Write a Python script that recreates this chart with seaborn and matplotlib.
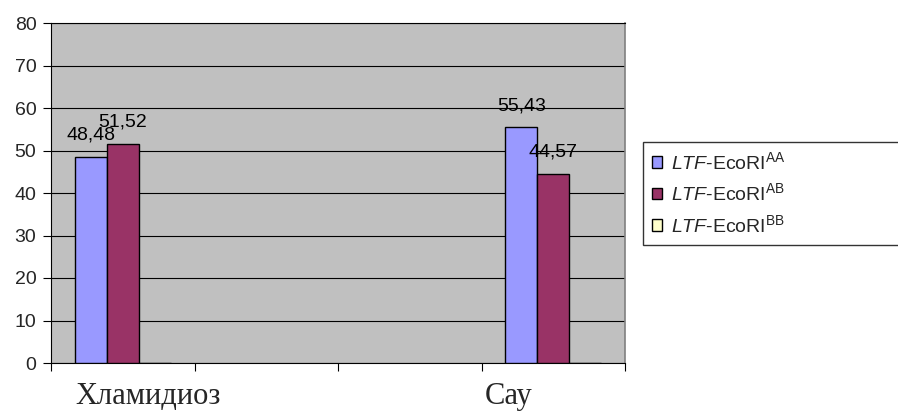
import matplotlib
matplotlib.use("Agg")
import matplotlib.pyplot as plt
import matplotlib.transforms as mtransforms
import numpy as np
import pandas as pd
import seaborn as sns

# Category slots along the x axis (the two middle slots are left empty)
categories = ["Хламидиоз", " ", "  ", "Сау"]
groups = ["Хламидиоз", "Сау"]
genotypes = ["AA", "AB", "BB"]
values_aa = [48.48, 55.43]
values_ab = [51.52, 44.57]
values_bb = [0.0, 0.0]
yticks = [0, 10, 20, 30, 40, 50, 60, 70, 80]

colors = ["#9999FF", "#993366", "#FFFFCC"]


def genotype_label(g):
    return r"$\mathit{LTF}$-EcoRI$^{\mathrm{" + g + r"}}$"


labels = [genotype_label(g) for g in genotypes]
rows = []
for g, lab, vals in zip(genotypes, labels, [values_aa, values_ab, values_bb]):
    for grp, v in zip(groups, vals):
        rows.append({"group": grp, "genotype": lab, "value": v})
df = pd.DataFrame(rows)

sns.set_theme(style="white")
plt.rcParams["font.family"] = ["Liberation Sans", "DejaVu Sans"]
plt.rcParams["mathtext.fontset"] = "custom"
plt.rcParams["mathtext.rm"] = "Liberation Sans"
plt.rcParams["mathtext.it"] = "Liberation Sans:italic"
plt.rcParams["mathtext.bf"] = "Liberation Sans:bold"

fig = plt.figure(figsize=(8.98, 4.12), dpi=100)
fig.patch.set_facecolor("white")
ax = fig.add_axes([51 / 898, 1 - 363 / 412, 574 / 898, 340 / 412])
ax.set_facecolor("#C0C0C0")

sns.barplot(
    data=df, x="group", y="value", hue="genotype",
    order=categories, hue_order=labels, palette=colors,
    width=0.667, dodge=True, edgecolor="black", linewidth=1.0,
    saturation=1, ax=ax, zorder=3,
)

# Value labels above the bars
for cont in ax.containers:
    heights = [b.get_height() for b in cont]
    texts = [("%.2f" % h).replace(".", ",") if h > 0 else "" for h in heights]
    ax.bar_label(cont, labels=texts, padding=9.5, fontsize=14, color="black")

ax.set_ylim(0, 80)
ax.set_xlim(-0.5, len(categories) - 0.5)
ax.set_yticks(yticks)
ax.set_yticklabels([str(t) for t in yticks])
ax.yaxis.grid(True, color="black", linewidth=0.8, zorder=0)
ax.set_axisbelow(True)
ax.tick_params(axis="y", which="major", direction="out", length=5.5, width=0.8,
               color="black", pad=5, labelsize=14, left=True)

# Category labels in a serif face, boundary ticks as minor ticks
ax.set_xticks(range(len(categories)))
ax.set_xticklabels(categories, fontfamily=["Liberation Serif", "DejaVu Serif"], fontsize=22)
ax.set_xticks(np.arange(-0.5, len(categories), 1.0), minor=True)
ax.tick_params(axis="x", which="major", length=0, pad=14)
ax.tick_params(axis="x", which="minor", direction="out", length=6, width=0.8,
               color="black", bottom=True)
shifts = {"Хламидиоз": 0.25, "Сау": -0.45}
for lbl in ax.get_xticklabels():
    dx = shifts.get(lbl.get_text(), 0.0)
    lbl.set_transform(lbl.get_transform() + mtransforms.ScaledTranslation(dx, 0, fig.dpi_scale_trans))

ax.set_xlabel("")
ax.set_ylabel("")
for side in ["left", "bottom", "top"]:
    ax.spines[side].set_color("black")
    ax.spines[side].set_linewidth(0.8)
ax.spines["right"].set_color("#808080")
ax.spines["right"].set_linewidth(1.2)

handles, leg_labels = ax.get_legend_handles_labels()
if ax.get_legend() is not None:
    ax.get_legend().remove()
top = 1 - 142 / 412
leg = fig.legend(
    handles, leg_labels, loc="upper left",
    bbox_to_anchor=(643 / 898, 0.2, 300 / 898, top - 0.2), mode="expand",
    fontsize=14, frameon=True, fancybox=False, edgecolor="black",
    handlelength=0.55, handleheight=0.55, handletextpad=0.45,
    labelspacing=0.5, borderpad=0.45, borderaxespad=0,
)
leg.get_frame().set_linewidth(1.0)
for h in leg.legend_handles:
    h.set_edgecolor("black")
    h.set_linewidth(1.0)

fig.savefig("out.png", dpi=100, facecolor="white")
